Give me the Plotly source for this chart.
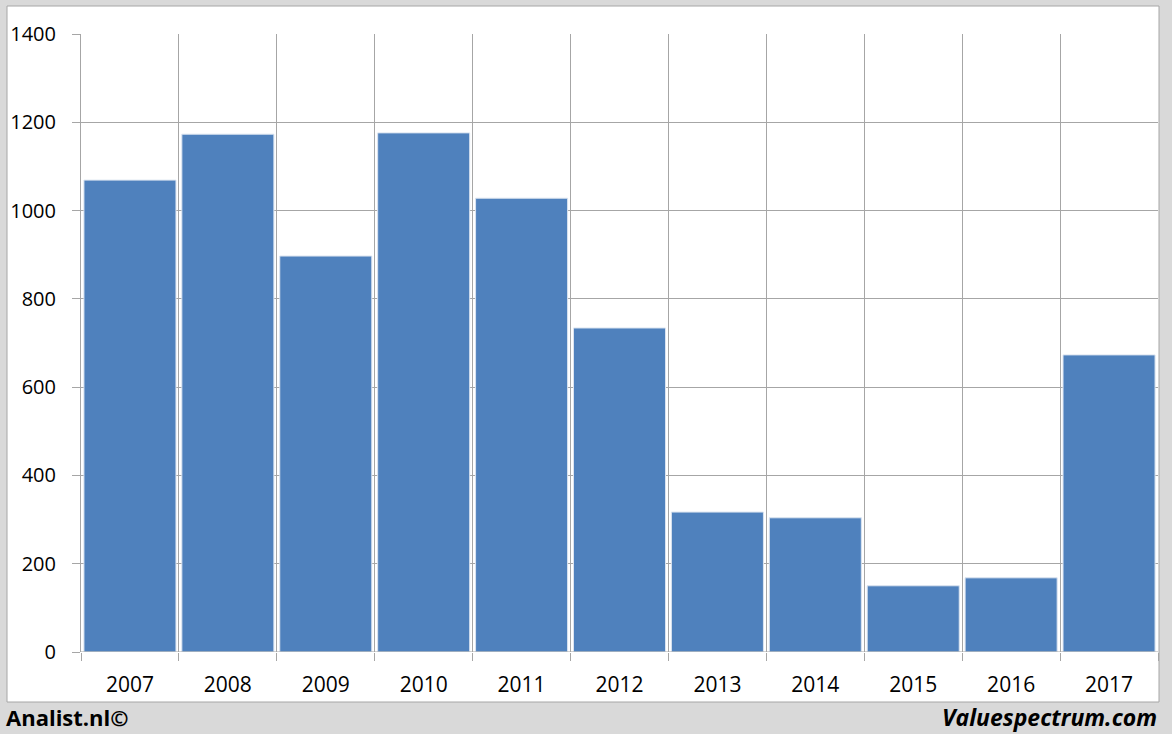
import plotly.graph_objects as go

years = ["2007", "2008", "2009", "2010", "2011", "2012", "2013", "2014", "2015", "2016", "2017"]
values = [1069, 1173, 897, 1176, 1028, 734, 317, 304, 150, 168, 673]
y_ticks = [0, 200, 400, 600, 800, 1000, 1200, 1400]

W, H = 1172, 734
L, R, T, B = 81, 1158, 34, 652

pos = list(range(len(years)))
bounds = [i - 0.5 for i in range(len(years) + 1)]

fig = go.Figure()
fig.add_trace(go.Bar(
    x=pos, y=values,
    marker=dict(color="#4f81bd", line=dict(color="#dbe4f0", width=1)),
    width=0.94,
    xaxis="x", yaxis="y",
    showlegend=False,
    hoverinfo="x+y",
))
# invisible trace to activate the boundary axis
fig.add_trace(go.Scatter(x=[bounds[0], bounds[-1]], y=[0, 0], mode="lines",
                         line=dict(width=0), xaxis="x2", yaxis="y",
                         showlegend=False, hoverinfo="skip"))

pw, ph = R - L, B - T
def px(xp):
    return (xp - L) / pw
def py(yp):
    return (B - yp) / ph

FAM = "Open Sans, Liberation Sans, sans-serif"
font = dict(family=FAM, size=21, color="#000000")

fig.update_layout(
    width=W, height=H,
    margin=dict(l=L, r=W - R, t=T, b=H - B, autoexpand=False),
    paper_bgcolor="#d9d9d9",
    plot_bgcolor="rgba(0,0,0,0)",
    font=font,
    xaxis=dict(
        range=[bounds[0], bounds[-1]], automargin=False,
        tickmode="array", tickvals=pos, ticktext=years,
        showgrid=False, ticks="", zeroline=False,
        tickfont=dict(size=21), ticklabelstandoff=18,
        showline=False,
    ),
    xaxis2=dict(
        overlaying="x", range=[bounds[0], bounds[-1]], automargin=False,
        tickmode="array", tickvals=bounds, ticktext=[""] * len(bounds),
        showgrid=True, gridcolor="#a6a6a6", gridwidth=1,
        ticks="outside", ticklen=8, tickcolor="#a6a6a6",
        zeroline=False, showline=False, side="bottom",
        layer="below traces",
    ),
    yaxis=dict(
        range=[0, 1400], automargin=False,
        tickmode="array", tickvals=y_ticks,
        showgrid=True, gridcolor="#a6a6a6", gridwidth=1,
        ticks="outside", ticklen=8, tickcolor="#a6a6a6",
        zeroline=False, showline=True, linecolor="#a6a6a6",
        tickfont=dict(size=20), ticklabelstandoff=12,
    ),
    shapes=[
        dict(type="rect", xref="paper", yref="paper",
             x0=px(7), x1=px(1159), y0=py(702), y1=py(6),
             fillcolor="#ffffff", line=dict(color="#a6a6a6", width=1),
             layer="below"),
        dict(type="line", xref="paper", yref="y",
             x0=0, x1=1, y0=0, y1=0,
             line=dict(color="#a6a6a6", width=1), layer="above"),
    ],
    annotations=[
        dict(text="<b>Analist.nl©</b>", xref="paper", yref="paper",
             x=px(4), y=py(717), xanchor="left", yanchor="middle",
             showarrow=False, font=dict(size=22, color="#000000", family=FAM)),
        dict(text="<b><i>Valuespectrum.com</i></b>", xref="paper", yref="paper",
             x=px(1159), y=py(717), xanchor="right", yanchor="middle",
             showarrow=False, font=dict(size=23, color="#000000", family=FAM)),
    ],
)

fig.write_html("out.html", config={"displayModeBar": False},
               post_script="document.body.style.margin='0';document.body.style.background='#d9d9d9';")
